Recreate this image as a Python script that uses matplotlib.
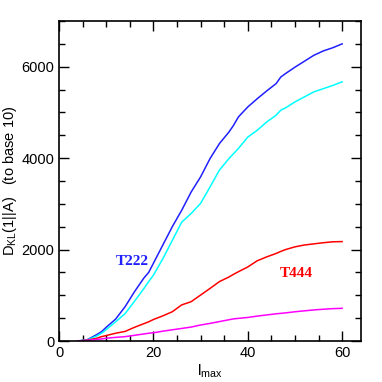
"""D_KL(1||A) vs l_max の曲線を描くスクリプト。"""

import matplotlib

matplotlib.use("Agg")
import matplotlib.pyplot as plt
from matplotlib.ticker import MultipleLocator


LMAX = [4, 6, 8, 9, 10, 12, 14, 16, 18, 19, 20, 22, 24, 26, 28, 30, 32, 34,
        36, 37, 38, 40, 42, 44, 46, 47, 48, 50, 52, 54, 56, 58, 60]

BLUE_T222 = [0, 30, 140, 204, 300, 480, 750, 1080, 1380, 1500, 1700, 2100,
             2500, 2860, 3260, 3590, 3990, 4320, 4570, 4720, 4900, 5120,
             5300, 5470, 5630, 5775, 5850, 5990, 6120, 6250, 6345, 6415, 6500]

CYAN = [0, 25, 110, 170, 250, 420, 600, 870, 1150, 1300, 1440, 1800, 2200,
        2600, 2790, 3010, 3370, 3740, 3990, 4100, 4210, 4460, 4610, 4790,
        4940, 5050, 5100, 5230, 5340, 5450, 5520, 5590, 5670]

RED_T444 = [0, 20, 60, 95, 120, 170, 210, 300, 380, 420, 470, 550, 640, 790,
            860, 1005, 1150, 1300, 1400, 1460, 1515, 1620, 1755, 1840, 1915,
            1960, 2000, 2060, 2100, 2125, 2150, 2170, 2175]

MAGENTA = [0, 15, 35, 45, 60, 80, 95, 125, 155, 170, 180, 215, 245, 275,
           305, 350, 385, 425, 465, 485, 495, 515, 545, 570, 595, 605, 615,
           640, 660, 680, 695, 708, 715]

LINES = [
    (BLUE_T222, "#2020ff"),
    (CYAN, "#00ffff"),
    (RED_T444, "#ff0000"),
    (MAGENTA, "#ff00ff"),
]


def main() -> None:
    plt.rcParams["font.family"] = ["Liberation Sans", "DejaVu Sans"]
    plt.rcParams["mathtext.fontset"] = "custom"
    plt.rcParams["mathtext.rm"] = "Liberation Sans"

    fig = plt.figure(figsize=(3.82, 3.82), dpi=100)
    ax = fig.add_axes([0.1545, 0.1073, 0.7906, 0.8377])

    for values, color in LINES:
        ax.plot(LMAX, values, color=color, linewidth=1.1)

    ax.set_xlim(0, 64)
    ax.set_ylim(0, 7000)
    ax.xaxis.set_major_locator(MultipleLocator(20))
    ax.xaxis.set_minor_locator(MultipleLocator(5))
    ax.yaxis.set_major_locator(MultipleLocator(2000))
    ax.yaxis.set_minor_locator(MultipleLocator(500))
    ax.tick_params(which="both", direction="in", top=True, right=True,
                   labelsize=10.5, width=1.0)
    ax.tick_params(which="major", length=7)
    ax.tick_params(which="minor", length=4)
    for spine in ax.spines.values():
        spine.set_linewidth(1.2)

    ax.text(15.6, 1750, "T222", color="#2020ff", fontsize=11,
            fontweight="bold", family="Liberation Serif", ha="center", va="center")
    ax.text(50.2, 1480, "T444", color="#ff0000", fontsize=11,
            fontweight="bold", family="Liberation Serif", ha="center", va="center")

    ax.set_xlabel(r"l$_{\rm max}$", fontsize=11, labelpad=2)
    ylabel = ax.set_ylabel(r"D$_{\rm KL}$(1||A)   (to base 10)", fontsize=10.5)
    ylabel.set_va("center")
    ax.yaxis.set_label_coords(-0.163, 0.5)

    fig.savefig("out.png", dpi=100)
    plt.close(fig)


if __name__ == "__main__":
    main()
